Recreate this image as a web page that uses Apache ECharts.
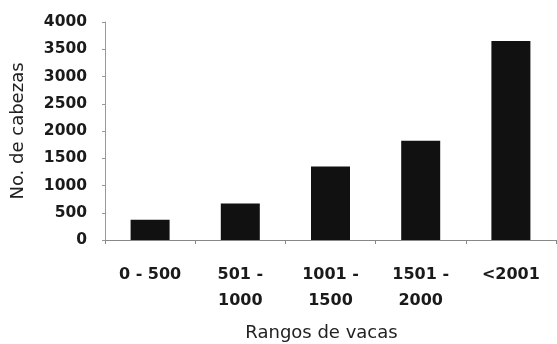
<!DOCTYPE html>
<html>
<head>
<meta charset="utf-8">
<script src="https://cdn.jsdelivr.net/npm/echarts@6/dist/echarts.min.js"></script>
<style>
  html, body { margin: 0; padding: 0; background: #fff; }
  #chart { width: 557px; height: 344px; }
</style>
</head>
<body>
<div id="chart"></div>
<script>
// Herd size ranges and number of head in each range
const categories = ['0 - 500', '501 -\n1000', '1001 -\n1500', '1501 -\n2000', '<2001'];
const cabezas = [370, 670, 1350, 1820, 3650];
const yTicks = [0, 500, 1000, 1500, 2000, 2500, 3000, 3500, 4000];

const font = '"DejaVu Sans", Verdana, sans-serif';
const chart = echarts.init(document.getElementById('chart'), null, { renderer: 'canvas' });

chart.setOption({
  animation: false,
  backgroundColor: '#fff',
  grid: { left: 105, right: 1, top: 22, bottom: 104, outerBoundsMode: 'none', containLabel: false },
  xAxis: {
    type: 'category',
    data: categories,
    name: 'Rangos de vacas',
    nameLocation: 'middle',
    nameGap: 84,
    nameTextStyle: { fontFamily: font, fontSize: 18, color: '#222', padding: [0, 18, 0, 0] },
    axisLine: { lineStyle: { color: '#888', width: 1 } },
    axisTick: { show: true, length: 4, lineStyle: { color: '#888' } },
    axisLabel: { fontFamily: font, fontSize: 16, fontWeight: 'bold', color: '#1a1a1a', margin: 22, lineHeight: 26 }
  },
  yAxis: {
    type: 'value',
    min: yTicks[0],
    max: yTicks[yTicks.length - 1],
    interval: 500,
    name: 'No. de cabezas',
    nameLocation: 'middle',
    nameGap: 78,
    nameTextStyle: { fontFamily: font, fontSize: 18, color: '#222' },
    axisLine: { show: true, lineStyle: { color: '#999', width: 1 } },
    axisTick: { show: true, length: 3, lineStyle: { color: '#999' } },
    splitLine: { show: false },
    axisLabel: {
      fontFamily: font, fontSize: 15.5, fontWeight: 'bold', color: '#1a1a1a', margin: 18,
      formatter: v => String(v)
    }
  },
  series: [{
    type: 'bar',
    data: cabezas,
    barWidth: 39,
    itemStyle: { color: '#111' }
  }]
});
</script>
</body>
</html>
